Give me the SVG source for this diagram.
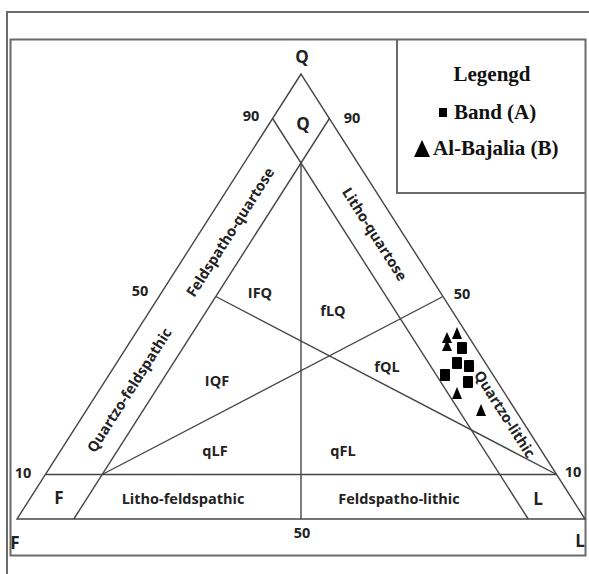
<svg xmlns="http://www.w3.org/2000/svg" width="589" height="574" viewBox="0 0 589 574">
<style>
.frame{fill:none;stroke:#6a6a6a;stroke-width:2}
.ln{fill:none;stroke:#454545;stroke-width:1.4}
.lb{font-family:"Open Sans","DejaVu Sans",sans-serif;font-weight:700;font-size:14.5px;fill:#222;text-anchor:middle;dominant-baseline:central}
.big{font-size:17px}
.lg{font-family:"Liberation Serif","Times New Roman",serif;font-weight:700;font-size:21px;fill:#111;dominant-baseline:central}
.mk{fill:#000}
</style>
<rect width="589" height="574" fill="#fff"/>
<g id="frame">
<polyline class="frame" points="7,574 7,12 589,12"/>
<rect class="frame" x="10.5" y="39.5" width="575" height="516"/>
</g>
<g id="legend">
<polyline class="frame" points="397,40 397,193 586,193"/>
<text class="lg" x="492" y="74" text-anchor="middle">Legengd</text>
<rect class="mk" x="439" y="108" width="8" height="9"/>
<text class="lg" x="454" y="112">Band (A)</text>
<polygon class="mk" points="414,157 422,140 430,157"/>
<text class="lg" x="433" y="148">Al-Bajalia (B)</text>
</g>
<g id="connectors">
<polygon class="ln" points="301,74 17,519 585,519"/>
<line class="ln" x1="329.4" y1="118.5" x2="73.8" y2="519"/>
<line class="ln" x1="272.6" y1="118.5" x2="528.2" y2="519"/>
<line class="ln" x1="45.4" y1="474.5" x2="556.6" y2="474.5"/>
<line class="ln" x1="301" y1="163" x2="301" y2="519"/>
<line class="ln" x1="215.8" y1="296.5" x2="556.6" y2="474.5"/>
<line class="ln" x1="102.2" y1="474.5" x2="443" y2="296.5"/>
</g>
<g id="labels">
<text class="lb big" x="302" y="56">Q</text>
<text class="lb big" x="303" y="123">Q</text>
<text class="lb" x="251" y="115">90</text>
<text class="lb" x="352" y="117">90</text>
<text class="lb" x="140" y="290">50</text>
<text class="lb" x="462" y="293">50</text>
<text class="lb" x="302" y="532">50</text>
<text class="lb" x="23" y="472">10</text>
<text class="lb" x="573" y="471">10</text>
<text class="lb big" x="59" y="497">F</text>
<text class="lb big" x="538" y="498">L</text>
<text class="lb big" x="15" y="542">F</text>
<text class="lb big" x="580" y="540">L</text>
<text class="lb" x="183" y="498">Litho-feldspathic</text>
<text class="lb" x="399" y="498">Feldspatho-lithic</text>
<text class="lb" x="260" y="292">IFQ</text>
<text class="lb" x="333" y="310">fLQ</text>
<text class="lb" x="387" y="366">fQL</text>
<text class="lb" x="217" y="380">IQF</text>
<text class="lb" x="215" y="450">qLF</text>
<text class="lb" x="343" y="450">qFL</text>
<text class="lb" transform="translate(230,232) rotate(-57.45)">Feldspatho-quartose</text>
<text class="lb" transform="translate(129,390) rotate(-57.45)">Quartzo-feldspathic</text>
<text class="lb" transform="translate(375,234) rotate(57.45)">Litho-quartose</text>
<text class="lb" transform="translate(505,414) rotate(57.45)">Quartzo-lithic</text>
</g>
<g id="data">
<polygon class="mk" points="442,343 447,332 452,343"/>
<polygon class="mk" points="452,339 457,327 462,339"/>
<polygon class="mk" points="442,351 447,340 452,351"/>
<polygon class="mk" points="452,399 457,387 462,399"/>
<polygon class="mk" points="476,416 481,404 486,416"/>
<rect class="mk" x="457" y="342" width="10" height="12" rx="1"/>
<rect class="mk" x="452" y="357" width="10" height="12" rx="1"/>
<rect class="mk" x="464" y="360" width="10" height="12" rx="1"/>
<rect class="mk" x="440" y="369" width="10" height="12" rx="1"/>
<rect class="mk" x="463" y="376" width="10" height="12" rx="1"/>
</g>
</svg>
